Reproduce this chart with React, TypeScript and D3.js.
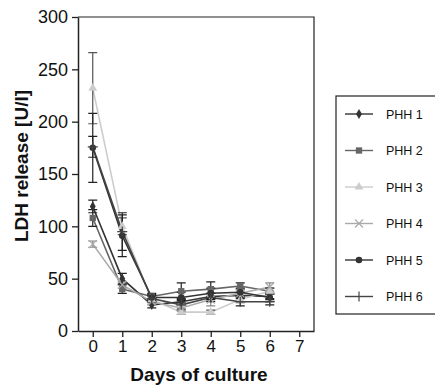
import React, { useRef, useEffect } from "react";
import * as d3 from "d3";

const days = [0, 1, 2, 3, 4, 5, 6];
const xTicks = [0, 1, 2, 3, 4, 5, 6, 7];
const yTicks = [0, 50, 100, 150, 200, 250, 300];

const seriesNames = ["PHH 1", "PHH 2", "PHH 3", "PHH 4", "PHH 5", "PHH 6"];
const phh1 = [119, 50, 25, 28, 33, 34, 33];
const phh2 = [108, 40, 33, 38, 40, 43, 38];
const phh3 = [232, 100, 30, 18, 18, 30, 38];
const phh4 = [83, 44, 28, 22, 30, 36, 42];
const phh5 = [175, 91, 32, 32, 36, 37, 32];
const phh6 = [176, 95, 31, 25, 32, 28, 28];

const err1 = [6, 5, 3, 3, 3, 3, 3];
const err2 = [8, 4, 3, 8, 7, 3, 3];
const err3 = [34, 8, 3, 2, 2, 3, 3];
const err4 = [3, 3, 3, 3, 6, 3, 4];
const err5 = [33, 20, 3, 5, 5, 4, 4];
const err6 = [10, 18, 3, 4, 4, 4, 3];

const seriesValues = [phh1, phh2, phh3, phh4, phh5, phh6];
const seriesErrors = [err1, err2, err3, err4, err5, err6];
const seriesColors = ["#333", "#666", "#ccc", "#aaa", "#333", "#444"];
const seriesMarkers = ["diamond", "square", "triangle", "x", "circle", "plus"];

const FONT = "'Liberation Sans', Arial, sans-serif";

function drawMarker(g: any, kind: string, cx: number, cy: number, color: string) {
  if (kind === "x" || kind === "plus") {
    const s = 4;
    const path =
      kind === "x"
        ? `M${cx - s},${cy - s}L${cx + s},${cy + s}M${cx - s},${cy + s}L${cx + s},${cy - s}`
        : `M${cx - s - 1},${cy}L${cx + s + 1},${cy}M${cx},${cy - s - 1}L${cx},${cy + s + 1}`;
    g.append("path").attr("d", path).attr("stroke", color).attr("stroke-width", 1.2).attr("fill", "none");
    return;
  }
  const symType =
    kind === "diamond" ? d3.symbolDiamond :
    kind === "square" ? d3.symbolSquare :
    kind === "triangle" ? d3.symbolTriangle : d3.symbolCircle;
  const size = kind === "square" ? 40 : kind === "diamond" ? 30 : 34;
  g.append("path")
    .attr("d", d3.symbol().type(symType).size(size)())
    .attr("transform", `translate(${cx},${cy})`)
    .attr("fill", color);
}

export default function App() {
  const svgRef = useRef<SVGSVGElement>(null);

  useEffect(() => {
    if (!svgRef.current) return;
    const svg = d3.select(svgRef.current);
    svg.selectAll("*").remove();

    const x = d3.scaleLinear().domain([-0.5, 7.5]).range([78, 314]);
    const y = d3.scaleLinear().domain([0, 300]).range([331, 17]);

    // frame (top + right)
    svg.append("path")
      .attr("d", `M78,17H314V331`)
      .attr("fill", "none").attr("stroke", "#222").attr("stroke-width", 1.2);

    // y axis
    svg.append("g")
      .attr("transform", "translate(78,0)")
      .call(d3.axisLeft(y).tickValues(yTicks).tickSize(6).tickSizeOuter(0))
      .call((g) => g.select(".domain").attr("stroke", "#222").attr("stroke-width", 1.5))
      .call((g) => g.selectAll(".tick line").attr("stroke", "#222").attr("stroke-width", 1.3))
      .call((g) => g.selectAll(".tick text").attr("fill", "#111").attr("font-size", "18px")
        .attr("font-family", FONT).attr("x", -10));

    // x axis
    svg.append("g")
      .attr("transform", "translate(0,331)")
      .call(d3.axisBottom(x).tickValues(xTicks).tickSize(6).tickSizeOuter(0))
      .call((g) => g.select(".domain").attr("stroke", "#222").attr("stroke-width", 1.5))
      .call((g) => g.selectAll(".tick line").attr("stroke", "#222").attr("stroke-width", 1.3))
      .call((g) => g.selectAll(".tick text").attr("fill", "#111").attr("font-size", "17px")
        .attr("font-family", FONT).attr("y", 9));

    // axis titles
    svg.append("text")
      .attr("transform", "translate(28,166) rotate(-90)")
      .attr("text-anchor", "middle")
      .attr("font-family", FONT).attr("font-weight", "bold").attr("font-size", "19px")
      .attr("fill", "#111")
      .text("LDH release [U/l]");
    svg.append("text")
      .attr("x", 199).attr("y", 381)
      .attr("text-anchor", "middle")
      .attr("font-family", FONT).attr("font-weight", "bold").attr("font-size", "19px")
      .attr("fill", "#111")
      .text("Days of culture");

    const plot = svg.append("g");
    const line = d3.line<number>().x((_, i) => x(days[i])).y((d) => y(d));

    seriesValues.forEach((vals, si) => {
      const color = seriesColors[si];
      plot.append("path").datum(vals)
        .attr("d", line).attr("fill", "none")
        .attr("stroke", color).attr("stroke-width", 1.6);
    });

    // error bars
    seriesValues.forEach((vals, si) => {
      const errs = seriesErrors[si];
      const color = si === 2 ? "#555" : si === 3 ? "#888" : "#222";
      vals.forEach((v, i) => {
        const cx = x(days[i]);
        const y1 = y(v + errs[i]);
        const y0 = y(v - errs[i]);
        plot.append("path")
          .attr("d", `M${cx},${y1}V${y0}M${cx - 4.5},${y1}H${cx + 4.5}M${cx - 4.5},${y0}H${cx + 4.5}`)
          .attr("stroke", color).attr("stroke-width", 1.2).attr("fill", "none");
      });
    });

    seriesValues.forEach((vals, si) => {
      vals.forEach((v, i) => drawMarker(plot, seriesMarkers[si], x(days[i]), y(v), seriesColors[si]));
    });

    // legend
    const lg = svg.append("g");
    lg.append("rect")
      .attr("x", 336).attr("y", 96).attr("width", 120).attr("height", 218)
      .attr("fill", "#fff").attr("stroke", "#222").attr("stroke-width", 1.2);
    seriesNames.forEach((name, si) => {
      const ly = 114 + si * 36.5;
      lg.append("line").attr("x1", 345).attr("x2", 373).attr("y1", ly).attr("y2", ly)
        .attr("stroke", seriesColors[si]).attr("stroke-width", 1.4);
      drawMarker(lg, seriesMarkers[si], 359, ly, seriesColors[si]);
      lg.append("text").attr("x", 386).attr("y", ly + 4.5)
        .attr("font-family", FONT).attr("font-size", "12.5px").attr("fill", "#111")
        .text(name);
    });
  }, []);

  return (
    <div style={{ position: "absolute", left: 0, top: 0 }}>
      <svg ref={svgRef} width={435} height={385} style={{ display: "block", background: "#fff" }} />
    </div>
  );
}
